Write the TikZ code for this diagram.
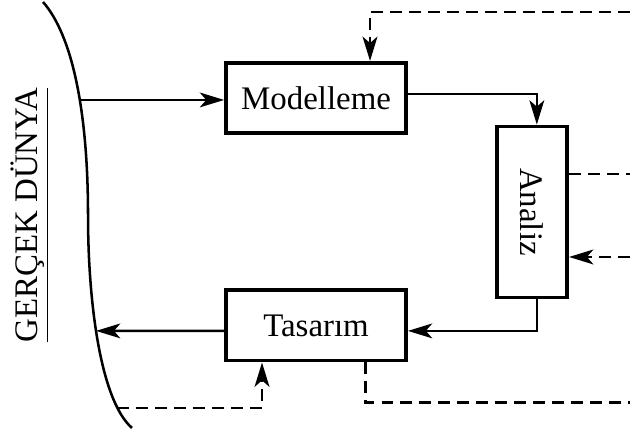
\documentclass[tikz,border=0pt]{standalone}
\usepackage{fontspec}
\setmainfont{Liberation Serif}
\usetikzlibrary{arrows.meta}

\tikzset{
  blok/.style={draw, line width=1.8pt, inner sep=0pt,
    minimum width=3cm, minimum height=1.17cm},
  ok/.style={-{Stealth[length=11.5pt,width=7pt,inset=3pt]}, line width=1.2pt},
  kesik/.style={line width=1.4pt, dash pattern=on 5.6pt off 3.4pt},
}

\begin{document}
\begin{tikzpicture}[font=\fontsize{15.6}{18}\selectfont]
  \useasboundingbox (0,0) rectangle (10.5,7.233);

  % the edge of the real world
  \draw[line width=1.2pt] (0.717,7.2) .. controls (1.2,6.65) and (1.467,5.4) .. (1.467,3.633)
    .. controls (1.467,2.233) and (1.667,0.567) .. (2.2,0.1);
  \coordinate (c1) at (1.34,5.567);
  \coordinate (c2) at (1.6,1.718);
  \coordinate (c3) at (1.95,0.433);
  \node[rotate=90, anchor=base] (dunya) at (0.617,3.65) {\underline{GERÇEK DÜNYA}};

  % the three steps
  \node[blok] (model) at (5.267,5.6) {Modelleme};
  \node[blok] (tasarim) at (5.267,1.808) {Tasarım};
  \node[blok, minimum width=1.17cm, minimum height=2.85cm] (analiz) at (8.867,3.7)
    {\rotatebox{-90}{Analiz}};

  % loose ends on the right
  \coordinate (sagust) at (10.5,7.033);
  \coordinate (sag1) at (10.5,4.333);
  \coordinate (sag2) at (10.5,2.95);
  \coordinate (sagalt) at (10.5,0.517);

  % main flow
  \draw[ok] (c1) -- (c1 -| model.west);
  \draw[ok] ([yshift=0.07cm]model.east) -| ([xshift=0.08cm]analiz.north);
  \draw[ok] ([xshift=0.08cm]analiz.south) |- ([yshift=-0.09cm]tasarim.east);
  \draw[ok] ([yshift=-0.09cm]tasarim.west) -- (c2);

  % feedback
  \draw[ok, kesik] (sagust) -| ([xshift=0.9cm]model.north);
  \draw[kesik] (analiz.east |- sag1) -- (sag1);
  \draw[ok, kesik] (sag2) -- (analiz.east |- sag2);
  \draw[kesik] ([xshift=0.817cm]tasarim.south) |- (sagalt);
  \draw[ok, kesik] (c3) -| ([xshift=-0.9cm]tasarim.south);
\end{tikzpicture}
\end{document}
